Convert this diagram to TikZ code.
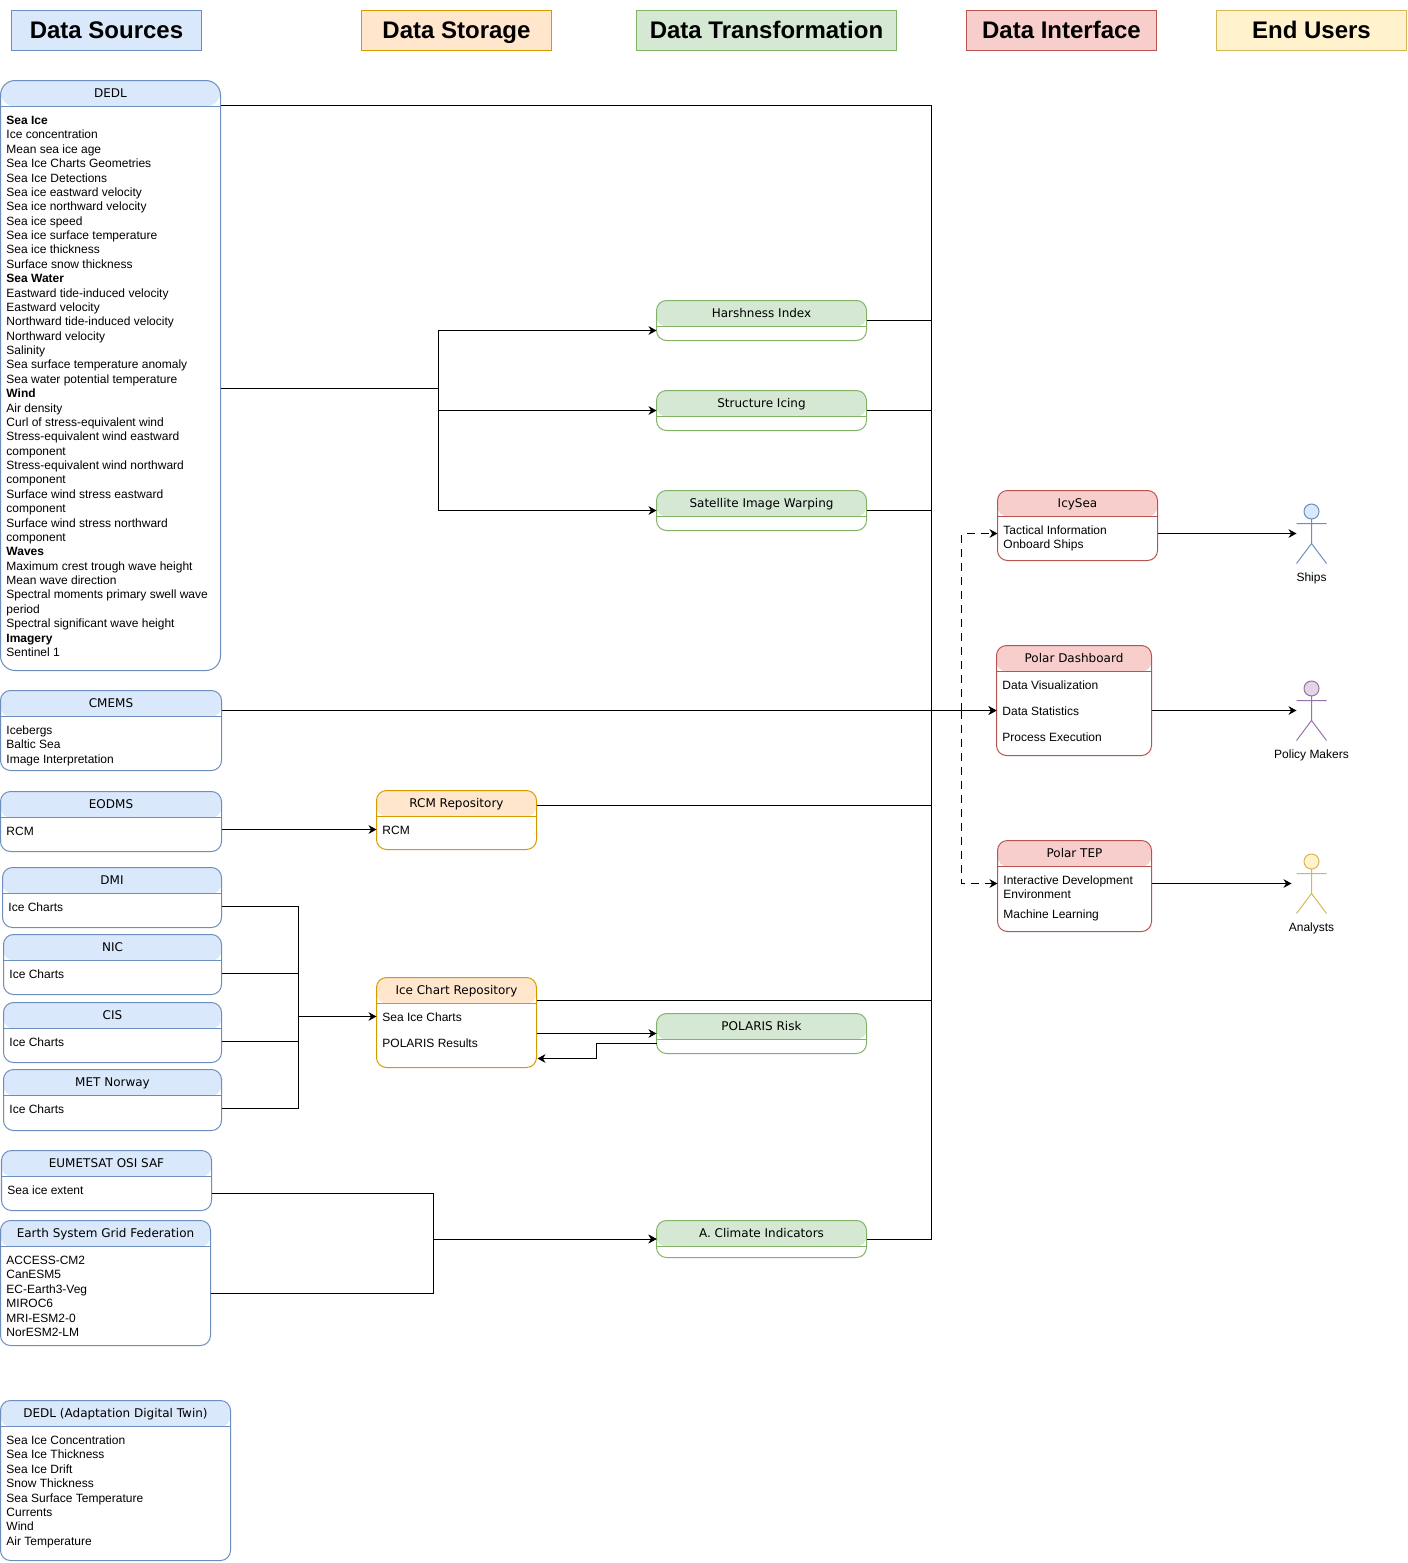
\documentclass[tikz,border=0pt]{standalone}
\usepackage{fontspec}
\setmainfont{Liberation Sans}
\newfontfamily\cardfont{DejaVu Sans}
\usetikzlibrary{arrows.meta,positioning}

\definecolor{bluefill}{HTML}{DAE8FC}
\definecolor{blueline}{HTML}{6C8EBF}
\definecolor{orangefill}{HTML}{FFE6CC}
\definecolor{orangeline}{HTML}{D79B00}
\definecolor{greenfill}{HTML}{D5E8D4}
\definecolor{greenline}{HTML}{82B366}
\definecolor{redfill}{HTML}{F8CECC}
\definecolor{redline}{HTML}{B85450}
\definecolor{yellowfill}{HTML}{FFF2CC}
\definecolor{yellowline}{HTML}{D6B656}
\definecolor{purplefill}{HTML}{E1D5E7}
\definecolor{purpleline}{HTML}{9673A6}

% name, palette, left, top, width, height, title, rows
\newcommand{\listcard}[9][]{%
  \node[cardbox, draw=#3line, minimum width=#6*0.75pt, minimum height=#7*0.75pt, #1,
    path picture={\fill[#3fill] (path picture bounding box.north west) rectangle
      ([yshift=-19.5pt]path picture bounding box.north east);}] (#2) at (#4,#5) {};
  \draw[#3line] ([yshift=-19.5pt]#2.north west) -- ([yshift=-19.5pt]#2.north east);
  \node[cardtitle] (#2-title) at ([yshift=-10.3pt]#2.north) {#8};
  \node[cardtext] (#2-text) at ([xshift=4.1pt,yshift=-25.15pt]#2.north west) {\strut #9};
}
% name, palette, centre x, centre y, label
\newcommand{\actorfig}[5]{%
  \node[actorbox] (#1) at (#3,#4) {};
  \begin{scope}[shift={(#1.center)}, #2line]
    \draw[fill=#2fill] (0,-22) circle[radius=7.5];
    \draw (0,-14.5) -- (0,10) (-15,-10) -- (15,-10) (-15,30) -- (0,10) -- (15,30);
  \end{scope}
  \node[actorlabel] (#1-label) at ([yshift=-34pt]#1.center) {#5};
}

\begin{document}
\begin{tikzpicture}[%
    x=0.75pt,
    y=-0.75pt,
    line width=0.75pt,
    >={Stealth[length=6pt,width=6.5pt]},
    headbox/.style={draw, anchor=north west, outer sep=0pt, minimum height=30pt, inner sep=0pt,
      text height=12pt, text depth=0pt, font=\fontsize{18}{21}\selectfont\bfseries},
    cardbox/.style={rounded corners=7.5pt, fill=white, anchor=north west, inner sep=0pt, outer sep=0pt},
    cardtitle/.style={inner sep=0pt, text height=7pt, text depth=2pt, font=\cardfont\fontsize{9}{10.8}\selectfont},
    cardtext/.style={inner sep=0pt, anchor=north west, align=left, font=\fontsize{9}{10.78}\selectfont},
    actorbox/.style={minimum width=22.5pt, minimum height=45pt, inner sep=0pt, outer sep=0pt},
    actorlabel/.style={inner sep=0pt, font=\fontsize{9}{10.8}\selectfont},
  ]
    \useasboundingbox (0,0) rectangle (1407,1563);

    % column heads
    \node[headbox, draw=blueline, fill=bluefill, minimum width=142.5pt] (sources) at (11.5,10.5) {Data Sources};
    \node[headbox, draw=orangeline, fill=orangefill, minimum width=142.5pt] (storage) at (361.5,10.5) {Data Storage};
    \node[headbox, draw=greenline, fill=greenfill, minimum width=195pt] (transform) at (636.5,10.5) {Data Transformation};
    \node[headbox, draw=redline, fill=redfill, minimum width=142.5pt] (interface) at (966.5,10.5) {Data Interface};
    \node[headbox, draw=yellowline, fill=yellowfill, minimum width=142.5pt] (users) at (1216.5,10.5) {End Users};

    % sources
    \listcard[rounded corners=11pt]{dedl}{blue}{0.5}{80.5}{220}{590}{DEDL}{\textbf{Sea Ice}\\
      Ice concentration\\
      Mean sea ice age\\
      Sea Ice Charts Geometries\\
      Sea Ice Detections\\
      Sea ice eastward velocity\\
      Sea ice northward velocity\\
      Sea ice speed\\
      Sea ice surface temperature\\
      Sea ice thickness\\
      Surface snow thickness\\
      \textbf{Sea Water}\\
      Eastward tide-induced velocity\\
      Eastward velocity\\
      Northward tide-induced velocity\\
      Northward velocity\\
      Salinity\\
      Sea surface temperature anomaly\\
      Sea water potential temperature\\
      \textbf{Wind}\\
      Air density\\
      Curl of stress-equivalent wind\\
      Stress-equivalent wind eastward\\
      component\\
      Stress-equivalent wind northward\\
      component\\
      Surface wind stress eastward\\
      component\\
      Surface wind stress northward\\
      component\\
      \textbf{Waves}\\
      Maximum crest trough wave height\\
      Mean wave direction\\
      Spectral moments primary swell wave\\
      period\\
      Spectral significant wave height\\
      \textbf{Imagery}\\
      Sentinel 1}
    \listcard{cmems}{blue}{0.5}{690.5}{221}{80}{CMEMS}{Icebergs\\Baltic Sea\\Image Interpretation}
    \listcard{eodms}{blue}{0.5}{791.5}{221}{60}{EODMS}{RCM}
    \listcard{dmi}{blue}{2.5}{867.5}{219}{60}{DMI}{Ice Charts}
    \listcard{nic}{blue}{3.5}{934.5}{218}{60}{NIC}{Ice Charts}
    \listcard{cis}{blue}{3.5}{1002.5}{218}{60}{CIS}{Ice Charts}
    \listcard{metnorway}{blue}{3.5}{1069.5}{218}{61}{MET Norway}{Ice Charts}
    \listcard{osisaf}{blue}{1.5}{1150.5}{210}{60}{EUMETSAT OSI SAF}{Sea ice extent}
    \listcard{esgf}{blue}{0.5}{1220.5}{210}{125}{Earth System Grid Federation}{ACCESS-CM2\\
      CanESM5\\
      EC-Earth3-Veg\\
      MIROC6\\
      MRI-ESM2-0\\
      NorESM2-LM}
    \listcard{adt}{blue}{0.5}{1400.5}{230}{160}{DEDL (Adaptation Digital Twin)}{Sea Ice Concentration\\
      Sea Ice Thickness\\
      Sea Ice Drift\\
      Snow Thickness\\
      Sea Surface Temperature\\
      Currents\\
      Wind\\
      Air Temperature}

    % storage
    \listcard{rcmrepo}{orange}{376.5}{790.5}{160}{59}{RCM Repository}{RCM}
    \listcard{icerepo}{orange}{376.5}{977.5}{160}{90}{Ice Chart Repository}{Sea Ice Charts\\[8.7pt]POLARIS Results}

    % transformation
    \listcard{harshness}{green}{656.5}{300.5}{210}{40}{Harshness Index}{}
    \listcard{icing}{green}{656.5}{390.5}{210}{40}{Structure Icing}{}
    \listcard{warping}{green}{656.5}{490.5}{210}{40}{Satellite Image Warping}{}
    \listcard{polaris}{green}{656.5}{1013.5}{210}{40}{POLARIS Risk}{}
    \listcard{climate}{green}{656.5}{1220.5}{210}{37}{A. Climate Indicators}{}

    % interface
    \listcard{icysea}{red}{997.5}{490.5}{160}{70}{IcySea}{Tactical Information\\Onboard Ships}
    \listcard{dashboard}{red}{996.5}{645.5}{155}{110}{Polar Dashboard}{Data Visualization\\[8.7pt]Data Statistics\\[8.7pt]Process Execution}
    \listcard{tep}{red}{997.5}{840.5}{154}{91}{Polar TEP}{Interactive Development\\Environment\\[4.2pt]Machine Learning}

    % users
    \actorfig{ships}{blue}{1311.5}{533.5}{Ships}
    \actorfig{policy}{purple}{1311.5}{710.5}{Policy Makers}
    \actorfig{analysts}{yellow}{1311.5}{883.5}{Analysts}

    \coordinate (trunk) at (931.5,710.5);
    \coordinate (fork) at (961.5,710.5);
    \coordinate (warpbus) at (438.5,388.5);
    \coordinate (icebus) at (298.5,1016.5);
    \coordinate (climatebus) at (433.5,1239);

    % into the dashboard
    \draw[->] (trunk) -- (dashboard.west |- trunk);
    \draw (dedl.east |- 0,105.5) -| (trunk);
    \draw (harshness.east) -| (trunk);
    \draw (icing.east) -| (trunk);
    \draw (warping.east) -| (trunk);
    \draw (rcmrepo.east |- 0,805) -| (trunk);
    \draw (icerepo.east |- 0,1000) -| (trunk);
    \draw (climate.east) -| (trunk);
    \draw[->] (cmems.east |- trunk) -- (dashboard.west |- trunk);
    \draw[dashed,dash pattern=on 6pt off 4.5pt,->] (fork) |- (icysea.west |- 0,533.5);
    \draw[dashed,dash pattern=on 6pt off 4.5pt,->] (fork) |- (tep.west |- 0,883.5);

    % into the indices
    \draw (dedl.east |- warpbus) -- (warpbus);
    \draw[->] (warpbus) |- (harshness.west |- 0,330.5);
    \draw[->] (warpbus) |- (icing.west |- 0,410.5);
    \draw[->] (warpbus) |- (warping.west |- 0,510.5);

    % into the repositories
    \draw[->] (eodms.east |- 0,829.5) -- (rcmrepo.west |- 0,829.5);
    \draw (dmi.east |- 0,906.5) -| (icebus);
    \draw (nic.east |- 0,973.5) -| (icebus);
    \draw (cis.east |- 0,1041.5) -| (icebus);
    \draw (metnorway.east |- 0,1108.5) -| (icebus);
    \draw[->] (icebus) -- (icerepo.west |- icebus);

    % risk loop
    \draw[->] (icerepo.east |- polaris.west) -- (polaris.west);
    \draw[->] (polaris.west |- 0,1043.5) -- (596.5,1043.5) |- ([xshift=0.75pt]icerepo.east |- 0,1058.5);

    % climate models
    \draw[->] (osisaf.east |- 0,1193.5) -| (climatebus) -- (climate.west);
    \draw[->] (esgf.east |- 0,1293.5) -| (climatebus) -- (climate.west);

    % out to the users
    \draw[->] (icysea.east |- ships.west) -- (ships.west);
    \draw[->] (dashboard.east |- policy.west) -- (policy.west);
    \draw[->] (tep.east |- analysts.west) -- ([xshift=-3.75pt]analysts.west);
  \end{tikzpicture}
\end{document}
